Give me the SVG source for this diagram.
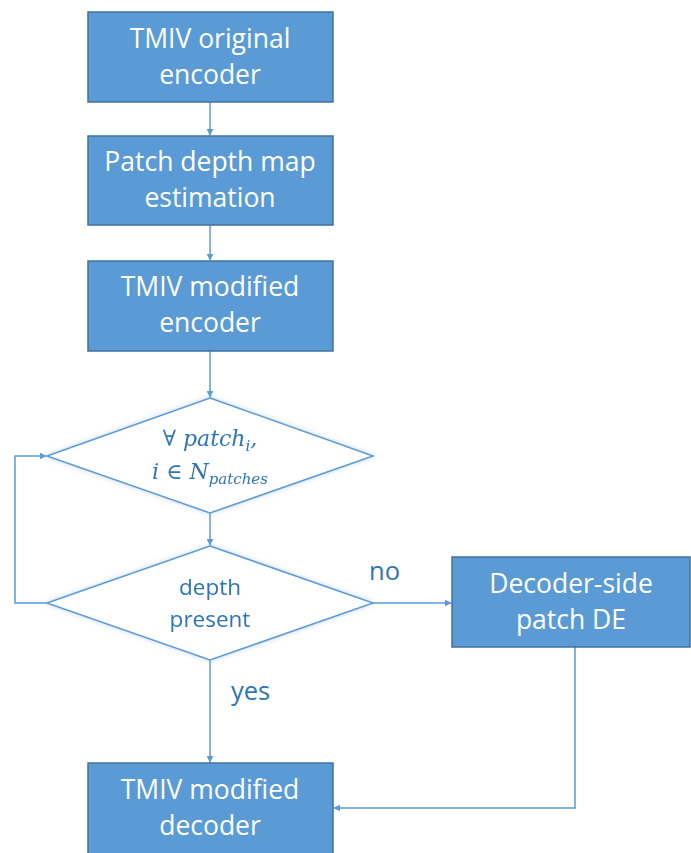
<svg xmlns="http://www.w3.org/2000/svg" width="691" height="853" viewBox="0 0 691 853">
  <style>
    .box { fill: #5B9BD5; stroke: #41719C; stroke-width: 1.5; }
    .dia { fill: #FFFFFF; stroke: #5B9BD5; stroke-width: 1.5; }
    .lbl { font-family: "Open Sans", Lato, sans-serif; font-size: 26.5px; fill: #FFFFFF; text-anchor: middle; }
    .dlbl { font-family: "Open Sans", Lato, sans-serif; font-size: 22.5px; fill: #2E75B6; text-anchor: middle; }
    .math { font-family: "DejaVu Serif", "Liberation Serif", serif; font-style: italic; font-size: 22px; fill: #2E75B6; text-anchor: middle; }
    .edge { font-family: "Open Sans", Lato, sans-serif; font-size: 25.5px; fill: #2E75B6; }
    .conn { fill: none; stroke: #5B9BD5; stroke-width: 1.5; }
  </style>
  <defs>
    <marker id="arrow" viewBox="0 0 10 10" refX="9" refY="5" markerWidth="7" markerHeight="7" orient="auto" markerUnits="userSpaceOnUse">
      <path d="M0,0 L10,5 L0,10 z" fill="#5B9BD5"/>
    </marker>
    <filter id="glow" x="-10%" y="-20%" width="120%" height="140%">
      <feGaussianBlur in="SourceAlpha" stdDeviation="2.5"/>
      <feOffset dx="0" dy="0" result="b"/>
      <feFlood flood-color="#9DB9D8" flood-opacity="0.6"/>
      <feComposite in2="b" operator="in"/>
      <feMerge><feMergeNode/><feMergeNode in="SourceGraphic"/></feMerge>
    </filter>
  </defs>

  <rect width="691" height="853" fill="#FFFFFF"/>

  <g id="connectors">
    <line class="conn" x1="210" y1="102" x2="210" y2="135" marker-end="url(#arrow)"/>
    <line class="conn" x1="210" y1="225" x2="210" y2="260" marker-end="url(#arrow)"/>
    <line class="conn" x1="210" y1="351" x2="210" y2="397" marker-end="url(#arrow)"/>
    <line class="conn" x1="210" y1="513" x2="210" y2="545" marker-end="url(#arrow)"/>
    <line class="conn" x1="210" y1="660" x2="210" y2="762" marker-end="url(#arrow)"/>
    <polyline class="conn" points="47,603 15,603 15,456 46,456" marker-end="url(#arrow)"/>
    <line class="conn" x1="373" y1="603" x2="451" y2="603" marker-end="url(#arrow)"/>
    <polyline class="conn" points="575,647 575,808 334,808" marker-end="url(#arrow)"/>
    <text class="edge" x="369" y="580">no</text>
    <text class="edge" x="231" y="700">yes</text>
  </g>

  <g id="tmiv-original-encoder">
    <rect class="box" x="88" y="12" width="245" height="90"/>
    <text class="lbl" x="210" y="48">TMIV original</text>
    <text class="lbl" x="210" y="84">encoder</text>
  </g>

  <g id="patch-depth-estimation">
    <rect class="box" x="88" y="136" width="245" height="89"/>
    <text class="lbl" x="210" y="171">Patch depth map</text>
    <text class="lbl" x="210" y="207">estimation</text>
  </g>

  <g id="tmiv-modified-encoder">
    <rect class="box" x="88" y="261" width="245" height="90"/>
    <text class="lbl" x="210" y="296">TMIV modified</text>
    <text class="lbl" x="210" y="332">encoder</text>
  </g>

  <g id="loop-patches" filter="url(#glow)">
    <polygon class="dia" points="210,398 373,456 210,513 47,456"/>
    <text class="math" x="210" y="446">∀ patch<tspan font-size="15" dy="5">i</tspan><tspan dy="-5">,</tspan></text>
    <text class="math" x="210" y="479">i ∈ N<tspan font-size="15" dy="5">patches</tspan></text>
  </g>

  <g id="depth-present" filter="url(#glow)">
    <polygon class="dia" points="210,546 373,603 210,660 47,603"/>
    <text class="dlbl" x="210" y="595">depth</text>
    <text class="dlbl" x="210" y="627">present</text>
  </g>

  <g id="decoder-side-patch-de">
    <rect class="box" x="452" y="557" width="238" height="90"/>
    <text class="lbl" x="571" y="593">Decoder-side</text>
    <text class="lbl" x="571" y="629">patch DE</text>
  </g>

  <g id="tmiv-modified-decoder">
    <rect class="box" x="88" y="763" width="245" height="100"/>
    <text class="lbl" x="210" y="799">TMIV modified</text>
    <text class="lbl" x="210" y="835">decoder</text>
  </g>
</svg>
